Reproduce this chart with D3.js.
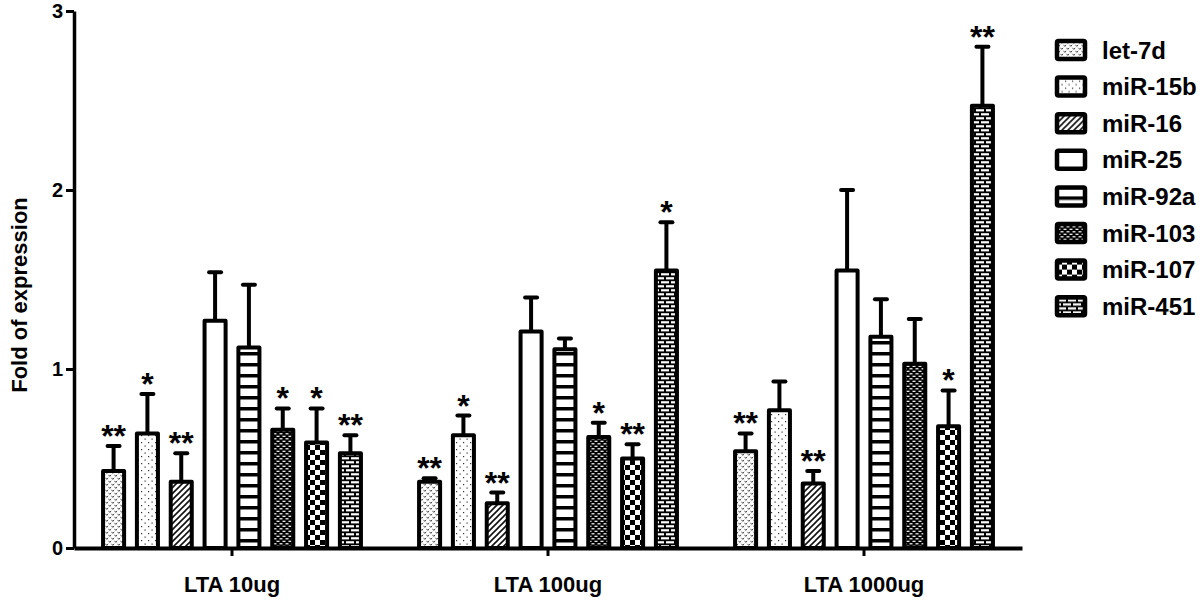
<!DOCTYPE html>
<html>
<head>
<meta charset="utf-8">
<script src="https://cdn.jsdelivr.net/npm/d3@7"></script>
<style>
  html, body { margin: 0; padding: 0; background: #fff; }
  svg { display: block; font-family: "Liberation Sans", Arial, sans-serif; }
</style>
</head>
<body>
<svg id="chart" width="1200" height="600"></svg>
<script>
// ---------------- data ----------------
const groups = ["LTA 10ug", "LTA 100ug", "LTA 1000ug"];
const series = ["let-7d", "miR-15b", "miR-16", "miR-25", "miR-92a", "miR-103", "miR-107", "miR-451"];
// mean fold of expression, per group (rows) and series (columns)
const means = [
  [0.43, 0.64, 0.37, 1.27, 1.12, 0.66, 0.59, 0.53],
  [0.37, 0.63, 0.25, 1.21, 1.11, 0.62, 0.50, 1.55],
  [0.54, 0.77, 0.36, 1.55, 1.18, 1.03, 0.68, 2.47]
];
// upper error bar tops (absolute values)
const errTops = [
  [0.57, 0.86, 0.53, 1.54, 1.47, 0.78, 0.78, 0.63],
  [0.39, 0.74, 0.31, 1.40, 1.17, 0.70, 0.58, 1.82],
  [0.64, 0.93, 0.43, 2.00, 1.39, 1.28, 0.88, 2.80]
];
const stars = [
  ["**", "*", "**", "", "", "*", "*", "**"],
  ["**", "*", "**", "", "", "*", "**", "*"],
  ["**", "", "**", "", "", "", "*", "**"]
];
const yTicks = [0, 1, 2, 3];
const yLabel = "Fold of expression";

// ---------------- chart ----------------
const svg = d3.select("#chart");
const defs = svg.append("defs");

function pat(id, w, h, draw) {
  const p = defs.append("pattern").attr("id", id).attr("patternUnits", "userSpaceOnUse")
    .attr("width", w).attr("height", h);
  draw(p);
}
pat("p0", 6, 6, p => {
  p.append("rect").attr("width", 6).attr("height", 6).attr("fill", "#fff");
  p.append("path").attr("d", "M0.5,0.8 L1.8,2.4 L3.1,0.8 M3.5,3.8 L4.8,5.4 L6.1,3.8 M-2.5,3.8 L-1.2,5.4 L0.1,3.8")
    .attr("fill", "none").attr("stroke", "#333").attr("stroke-width", 0.9);
});
pat("p1", 7, 7, p => {
  p.append("rect").attr("width", 7).attr("height", 7).attr("fill", "#fff");
  p.append("rect").attr("x", 1).attr("y", 1).attr("width", 1.2).attr("height", 1.2).attr("fill", "#333");
  p.append("rect").attr("x", 4.5).attr("y", 4.5).attr("width", 1.2).attr("height", 1.2).attr("fill", "#333");
});
pat("p2", 6, 6, p => {
  p.append("rect").attr("width", 6).attr("height", 6).attr("fill", "#fff");
  p.append("path").attr("d", "M-1,7 L7,-1 M-4,4 L4,-4 M2,10 L10,2")
    .attr("stroke", "#111").attr("stroke-width", 1.6);
});
pat("p3", 10, 10, p => {
  p.append("rect").attr("width", 10).attr("height", 10).attr("fill", "#fff");
});
pat("p4", 10, 11, p => {
  p.append("rect").attr("width", 10).attr("height", 11).attr("fill", "#fff");
  p.append("rect").attr("y", 0).attr("width", 10).attr("height", 3.5).attr("fill", "#000");
});
pat("p5", 6, 5, p => {
  p.append("rect").attr("width", 6).attr("height", 5).attr("fill", "#000");
  p.append("rect").attr("x", 0.5).attr("y", 0.7).attr("width", 3).attr("height", 1.2).attr("fill", "#fff");
  p.append("rect").attr("x", 3.5).attr("y", 3.2).attr("width", 3).attr("height", 1.2).attr("fill", "#fff");
  p.append("rect").attr("x", -2.5).attr("y", 3.2).attr("width", 3).attr("height", 1.2).attr("fill", "#fff");
});
pat("p6", 10, 10, p => {
  p.append("rect").attr("width", 10).attr("height", 10).attr("fill", "#fff");
  p.append("rect").attr("width", 5).attr("height", 5).attr("fill", "#000");
  p.append("rect").attr("x", 5).attr("y", 5).attr("width", 5).attr("height", 5).attr("fill", "#000");
});
pat("p7", 10, 8, p => {
  p.append("rect").attr("width", 10).attr("height", 8).attr("fill", "#000");
  p.append("rect").attr("x", 1).attr("y", 1.2).attr("width", 8).attr("height", 2.2).attr("fill", "#fff");
  p.append("rect").attr("x", -4).attr("y", 5.2).attr("width", 8).attr("height", 2.2).attr("fill", "#fff");
  p.append("rect").attr("x", 6).attr("y", 5.2).attr("width", 8).attr("height", 2.2).attr("fill", "#fff");
});
const fillOf = i => `url(#p${i})`;

const y = d3.scaleLinear().domain([0, 3]).range([548, 11]);
const x0 = d3.scaleBand().domain(groups).range([74, 1022]).padding(0);
const x1 = d3.scaleBand().domain(series).range([0, x0.bandwidth()])
  .paddingInner(0.26).paddingOuter(0.8);

const rows = [];
groups.forEach((g, gi) => series.forEach((s, si) => rows.push({
  g, s, si, v: means[gi][si], e: errTops[gi][si], star: stars[gi][si]
})));

const bw = x1.bandwidth();
const cx = d => x0(d.g) + x1(d.s) + bw / 2;

// error bars
const eb = svg.append("g").attr("stroke", "#000").attr("stroke-width", 4);
eb.selectAll("line.v").data(rows).join("line").attr("class", "v")
  .attr("x1", cx).attr("x2", cx).attr("y1", d => y(d.v)).attr("y2", d => y(d.e));
eb.selectAll("line.c").data(rows).join("line").attr("class", "c")
  .attr("stroke-width", 4).attr("stroke-linecap", "round")
  .attr("x1", d => cx(d) - 6).attr("x2", d => cx(d) + 6)
  .attr("y1", d => y(d.e)).attr("y2", d => y(d.e));

// bars
svg.append("g").selectAll("rect").data(rows).join("rect")
  .attr("x", d => x0(d.g) + x1(d.s) + 2)
  .attr("width", bw - 4)
  .attr("y", d => y(d.v))
  .attr("height", d => y(0) - y(d.v))
  .attr("fill", d => fillOf(d.si))
  .attr("stroke", "#000").attr("stroke-width", 4).attr("stroke-linejoin", "round");

// stars
svg.append("g").selectAll("text").data(rows.filter(d => d.star)).join("text")
  .attr("x", cx).attr("y", d => y(d.e) + 1)
  .attr("text-anchor", "middle").attr("font-size", 32).attr("font-weight", "bold")
  .text(d => d.star);

// y axis
const ya = svg.append("g").attr("transform", "translate(74,0)")
  .call(d3.axisLeft(y).tickValues(yTicks).tickFormat(d3.format("d")).tickSize(8).tickSizeOuter(0).tickPadding(3));
ya.select(".domain").attr("stroke-width", 3.5);
ya.selectAll(".tick line").attr("stroke-width", 3);
ya.selectAll(".tick text").attr("font-size", 20).attr("font-weight", "bold")
  .attr("font-family", "Liberation Sans, Arial, sans-serif").attr("fill", "#000");

// x axis
const xa = svg.append("g").attr("transform", "translate(0,548)")
  .call(d3.axisBottom(x0).tickSize(8).tickSizeOuter(0));
xa.select(".domain").attr("stroke-width", 4);
xa.selectAll(".tick line").attr("stroke-width", 3);
xa.selectAll(".tick text").attr("font-size", 22).attr("font-weight", "bold")
  .attr("font-family", "Liberation Sans, Arial, sans-serif").attr("fill", "#000")
  .attr("y", 44).attr("dy", 0);

// y label
svg.append("text").attr("transform", "translate(27,295) rotate(-90)")
  .attr("text-anchor", "middle").attr("font-size", 22).attr("font-weight", "bold")
  .text(yLabel);

// legend
const lg = svg.append("g").selectAll("g").data(series).join("g")
  .attr("transform", (d, i) => `translate(1057,${50 + i * 36.6})`);
lg.append("rect").attr("x", 0).attr("y", -9).attr("width", 28).attr("height", 18)
  .attr("fill", (d, i) => fillOf(i)).attr("stroke", "#000").attr("stroke-width", 4.5)
  .attr("rx", 1.5);
lg.append("text").attr("x", 45).attr("y", 0).attr("dy", "0.36em")
  .attr("font-size", 24).attr("font-weight", "bold").text(d => d);
</script>
</body>
</html>
